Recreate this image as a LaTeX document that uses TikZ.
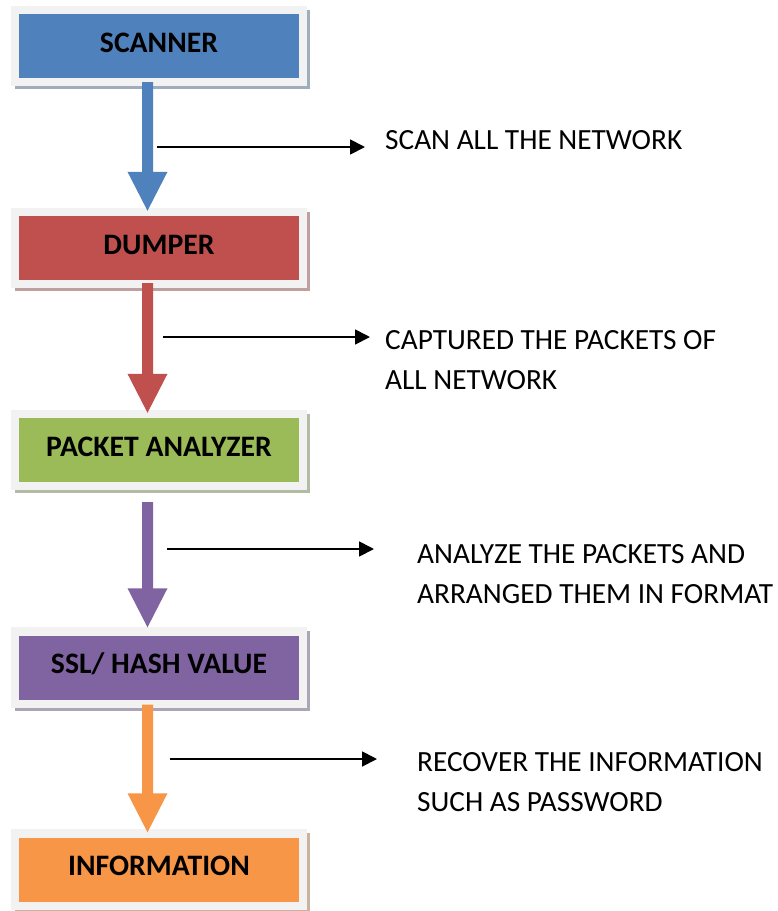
\documentclass[tikz,border=0pt]{standalone}
\usepackage{fontspec}
\setmainfont{Carlito}
\usetikzlibrary{arrows.meta,calc,backgrounds}
\definecolor{cblue}{HTML}{4F81BD}
\definecolor{cred}{HTML}{C0504D}
\definecolor{cgreen}{HTML}{9BBB59}
\definecolor{cpurple}{HTML}{8064A2}
\definecolor{corange}{HTML}{F79646}
\definecolor{cframe}{HTML}{F2F2F2}
\newcommand\fatarr[3]{\fill[#1] ($(#2)+(-5.5,0)$) -- ($(#2)+(5.5,0)$) -- ($(#3)+(5.5,-39)$) -- ($(#3)+(20,-39)$) -- (#3) -- ($(#3)+(-20,-39)$) -- ($(#3)+(-5.5,-39)$) -- cycle;}
\begin{document}
\begin{tikzpicture}[x=1pt,y=-1pt,
  box/.style={rectangle, minimum width=280pt, minimum height=64pt, inner sep=0pt,
    font=\bfseries\fontsize{29.7}{35}\selectfont, text height=20pt, text depth=8pt},
  note/.style={anchor=north west, inner sep=0pt, align=left,
    font=\fontsize{29.3}{40}\selectfont},
  thinarrow/.style={line width=1.8pt, -{Triangle[length=15pt,width=15pt]}}]
\useasboundingbox (0,0) rectangle (778,911);

\node[box, fill=cblue]   (scan) at (159,46)    {SCANNER};
\node[box, fill=cred]    (dump) at (159,248)   {DUMPER};
\node[box, fill=cgreen]  (pa)   at (159,450)   {PACKET ANALYZER};
\node[box, fill=cpurple] (ssl)  at (159,667.5) {SSL/ HASH VALUE};
\node[box, fill=corange] (info) at (159,869.5) {INFORMATION};

\begin{scope}[on background layer]
\foreach \n/\c in {scan/cblue, dump/cred, pa/cgreen, ssl/cpurple, info/corange}{
  \fill[fill={\c!40!gray!65!white}] ($(\n.north west)+(-4,-4)$) rectangle ($(\n.south east)+(11,11)$);
  \fill[cframe] ($(\n.north west)+(-8,-8)$) rectangle ($(\n.south east)+(8,8)$);
}
\end{scope}

\coordinate (b1s) at ($(scan.south)+(-11.5,4)$);
\coordinate (b1t) at ($(dump.north)+(-11.5,-5)$);
\coordinate (b2s) at ($(dump.south)+(-11.5,3)$);
\coordinate (b2t) at ($(pa.north)+(-11.5,-5)$);
\coordinate (b3s) at ($(pa.south)+(-11.5,20)$);
\coordinate (b3t) at ($(ssl.north)+(-11.5,-8)$);
\coordinate (b4s) at ($(ssl.south)+(-11.5,5)$);
\coordinate (b4t) at ($(info.north)+(-11.5,-5)$);
\fatarr{cblue}{b1s}{b1t}
\fatarr{cred}{b2s}{b2t}
\fatarr{cpurple}{b3s}{b3t}
\fatarr{corange}{b4s}{b4t}

\node[note] (t1) at (385,130) {SCAN ALL THE NETWORK};
\node[note] (t2) at (385,330) {CAPTURED THE PACKETS OF\\ALL NETWORK};
\node[note] (t3) at (417,544) {ANALYZE THE PACKETS AND\\ARRANGED THEM IN FORMAT};
\node[note] (t4) at (417,752) {RECOVER THE INFORMATION\\SUCH AS PASSWORD};

\coordinate (k1s) at (157,147); \coordinate (k1e) at (365,147);
\coordinate (k2s) at (163,337); \coordinate (k2e) at (370,337);
\coordinate (k3s) at (167,549); \coordinate (k3e) at (374,549);
\coordinate (k4s) at (170,759); \coordinate (k4e) at (377,759);
\draw[thinarrow] (k1s) -- (k1e);
\draw[thinarrow] (k2s) -- (k2e);
\draw[thinarrow] (k3s) -- (k3e);
\draw[thinarrow] (k4s) -- (k4e);
\end{tikzpicture}
\end{document}
